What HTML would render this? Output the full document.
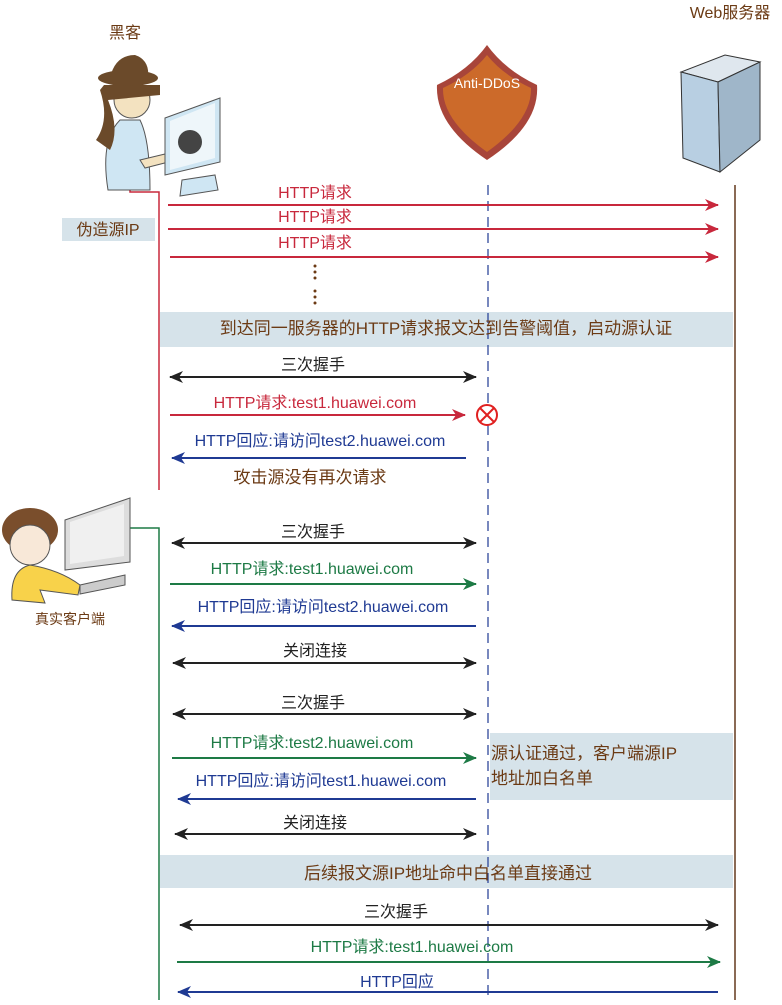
<!DOCTYPE html>
<html><head><meta charset="utf-8"><style>
html,body{margin:0;padding:0;background:#fff}
svg text{font-family:"Liberation Sans","Noto Sans CJK SC",sans-serif;font-size:16px;text-anchor:middle}
.k{fill:#222}.r{fill:#c8283c}.g{fill:#1d7a45}.b{fill:#1f3a93}.n{fill:#6b3a14}
</style></head><body>
<svg width="782" height="1000" viewBox="0 0 782 1000" xmlns="http://www.w3.org/2000/svg">
<defs>
<marker id="ak" markerWidth="14" markerHeight="14" refX="13" refY="7" orient="auto-start-reverse" markerUnits="userSpaceOnUse"><path d="M0,1 L14,7 L0,13 L4,7Z" fill="#222"/></marker>
<marker id="ar" markerWidth="14" markerHeight="14" refX="13" refY="7" orient="auto-start-reverse" markerUnits="userSpaceOnUse"><path d="M0,1 L14,7 L0,13 L4,7Z" fill="#c8283c"/></marker>
<marker id="ag" markerWidth="14" markerHeight="14" refX="13" refY="7" orient="auto-start-reverse" markerUnits="userSpaceOnUse"><path d="M0,1 L14,7 L0,13 L4,7Z" fill="#1d7a45"/></marker>
<marker id="ab" markerWidth="14" markerHeight="14" refX="13" refY="7" orient="auto-start-reverse" markerUnits="userSpaceOnUse"><path d="M0,1 L14,7 L0,13 L4,7Z" fill="#1f3a93"/></marker>
</defs>
<!-- boxes -->
<rect x="62" y="218" width="93" height="23" fill="#d6e3ea"/>
<rect x="160" y="312" width="573" height="35" fill="#d6e3ea"/>
<rect x="490" y="733" width="243" height="67" fill="#d6e3ea"/>
<rect x="160" y="855" width="573" height="33" fill="#d6e3ea"/>
<!-- lifelines -->
<line x1="735" y1="185" x2="735" y2="1000" stroke="#8a6a55" stroke-width="2"/>
<line x1="488" y1="185" x2="488" y2="1000" stroke="#1f3a93" stroke-width="1.2" stroke-dasharray="10,6"/>
<polyline points="130,178 130,192 159,192 159,490" fill="none" stroke="#c8283c" stroke-width="1.5"/>
<polyline points="130,528 159,528 159,1000" fill="none" stroke="#1d7a45" stroke-width="1.5"/>
<!-- hacker -->
<text x="125" y="38" class="n">黑客</text>
<path d="M108,190 Q100,140 120,120 L140,120 Q150,140 150,190Z" fill="#cfe6f3" stroke="#555"/>
<path d="M140,160 L190,148 L192,156 L145,168Z" fill="#f3e2c0" stroke="#555"/>
<circle cx="132" cy="100" r="18" fill="#f3e2c0" stroke="#555"/>
<path d="M96,140 Q110,120 100,90 L104,85 L160,85 L160,95 L108,100 Q120,130 110,150Z" fill="#6b4a2a"/>
<ellipse cx="128" cy="78" rx="30" ry="8" fill="#6b4a2a"/>
<path d="M110,78 Q115,55 135,55 Q150,60 148,78Z" fill="#6b4a2a"/>
<path d="M165,118 L220,98 L220,162 L165,175Z" fill="#cfe6f3" stroke="#555"/>
<path d="M170,121 L215,103 L215,158 L170,170Z" fill="#eef6fa"/>
<circle cx="190" cy="142" r="12" fill="#444"/>
<path d="M182,180 L215,175 L218,190 L180,196Z" fill="#cfe6f3" stroke="#555"/>
<!-- shield -->
<path d="M487,45 Q505,70 537,85 Q540,125 487,160 Q435,125 437,85 Q469,70 487,45Z" fill="#a8453a"/>
<path d="M487,55 Q503,75 531,88 Q532,120 487,152 Q442,120 443,88 Q471,75 487,55Z" fill="#cc6a2a"/>
<text x="487" y="88" style="fill:#fff;font-size:14px">Anti-DDoS</text>
<!-- server -->
<text x="730" y="18" class="n">Web服务器</text>
<path d="M681,72 L718,82 L760,62 L725,55Z" fill="#dfe7ee" stroke="#333"/>
<path d="M681,72 L718,82 L720,172 L683,158Z" fill="#b8cfe2" stroke="#333"/>
<path d="M718,82 L760,62 L760,140 L720,172Z" fill="#9fb6c9" stroke="#333"/>
<!-- client -->
<ellipse cx="30" cy="530" rx="28" ry="22" fill="#7a4e2c"/>
<circle cx="30" cy="545" r="20" fill="#f8e8d8" stroke="#555"/>
<path d="M12,600 Q10,570 30,565 Q60,570 80,585 L78,595 L40,590 L45,603Z" fill="#f8d24a" stroke="#555"/>
<path d="M65,520 L130,498 L130,562 L65,570Z" fill="#ddd" stroke="#555"/>
<path d="M70,522 L124,504 L124,556 L70,564Z" fill="#f0f0f0"/>
<path d="M80,585 L125,575 L125,585 L80,594Z" fill="#ccc" stroke="#555"/>
<text x="70" y="624" class="n" style="font-size:14px">真实客户端</text>
<!-- labels -->
<text x="108" y="235" class="n">伪造源IP</text>
<text x="315" y="198" class="r">HTTP请求</text>
<text x="315" y="222" class="r">HTTP请求</text>
<text x="315" y="248" class="r">HTTP请求</text>
<line x1="168" y1="205" x2="718" y2="205" stroke="#c8283c" stroke-width="2" marker-end="url(#ar)"/>
<line x1="168" y1="229" x2="718" y2="229" stroke="#c8283c" stroke-width="2" marker-end="url(#ar)"/>
<line x1="170" y1="257" x2="718" y2="257" stroke="#c8283c" stroke-width="2" marker-end="url(#ar)"/>
<g fill="#6b3a14"><circle cx="315" cy="266" r="1.5"/><circle cx="315" cy="272" r="1.5"/><circle cx="315" cy="278" r="1.5"/><circle cx="315" cy="291" r="1.5"/><circle cx="315" cy="297" r="1.5"/><circle cx="315" cy="303" r="1.5"/></g>
<text x="446" y="334" class="n" style="font-size:17px">到达同一服务器的HTTP请求报文达到告警阈值，启动源认证</text>
<text x="313" y="370" class="k">三次握手</text>
<line x1="170" y1="377" x2="476" y2="377" stroke="#222" stroke-width="2" marker-start="url(#ak)" marker-end="url(#ak)"/>
<text x="315" y="408" class="r">HTTP请求:test1.huawei.com</text>
<line x1="170" y1="415" x2="465" y2="415" stroke="#c8283c" stroke-width="2" marker-end="url(#ar)"/>
<circle cx="487" cy="415" r="10" fill="#fff" stroke="#e02020" stroke-width="2"/>
<path d="M480,408 L494,422 M494,408 L480,422" stroke="#e02020" stroke-width="2"/>
<text x="320" y="446" class="b">HTTP回应:请访问test2.huawei.com</text>
<line x1="466" y1="458" x2="172" y2="458" stroke="#1f3a93" stroke-width="2" marker-end="url(#ab)"/>
<text x="310" y="483" class="n" style="font-size:17px">攻击源没有再次请求</text>
<text x="313" y="537" class="k">三次握手</text>
<line x1="172" y1="543" x2="476" y2="543" stroke="#222" stroke-width="2" marker-start="url(#ak)" marker-end="url(#ak)"/>
<text x="312" y="574" class="g">HTTP请求:test1.huawei.com</text>
<line x1="170" y1="584" x2="476" y2="584" stroke="#1d7a45" stroke-width="2" marker-end="url(#ag)"/>
<text x="323" y="612" class="b">HTTP回应:请访问test2.huawei.com</text>
<line x1="476" y1="626" x2="172" y2="626" stroke="#1f3a93" stroke-width="2" marker-end="url(#ab)"/>
<text x="315" y="656" class="k">关闭连接</text>
<line x1="173" y1="663" x2="476" y2="663" stroke="#222" stroke-width="2" marker-start="url(#ak)" marker-end="url(#ak)"/>
<text x="313" y="708" class="k">三次握手</text>
<line x1="173" y1="714" x2="476" y2="714" stroke="#222" stroke-width="2" marker-start="url(#ak)" marker-end="url(#ak)"/>
<text x="312" y="748" class="g">HTTP请求:test2.huawei.com</text>
<line x1="172" y1="758" x2="476" y2="758" stroke="#1d7a45" stroke-width="2" marker-end="url(#ag)"/>
<text x="321" y="786" class="b">HTTP回应:请访问test1.huawei.com</text>
<line x1="476" y1="799" x2="178" y2="799" stroke="#1f3a93" stroke-width="2" marker-end="url(#ab)"/>
<text x="491" y="759" class="n" style="text-anchor:start;font-size:17px">源认证通过，客户端源IP</text>
<text x="491" y="784" class="n" style="text-anchor:start;font-size:17px">地址加白名单</text>
<text x="315" y="828" class="k">关闭连接</text>
<line x1="175" y1="834" x2="476" y2="834" stroke="#222" stroke-width="2" marker-start="url(#ak)" marker-end="url(#ak)"/>
<text x="448" y="879" class="n" style="font-size:17px">后续报文源IP地址命中白名单直接通过</text>
<text x="396" y="917" class="k">三次握手</text>
<line x1="180" y1="925" x2="718" y2="925" stroke="#222" stroke-width="2" marker-start="url(#ak)" marker-end="url(#ak)"/>
<text x="412" y="952" class="g">HTTP请求:test1.huawei.com</text>
<line x1="177" y1="962" x2="720" y2="962" stroke="#1d7a45" stroke-width="2" marker-end="url(#ag)"/>
<text x="397" y="987" class="b">HTTP回应</text>
<line x1="718" y1="992" x2="178" y2="992" stroke="#1f3a93" stroke-width="2" marker-end="url(#ab)"/>
</svg>
</body></html>
